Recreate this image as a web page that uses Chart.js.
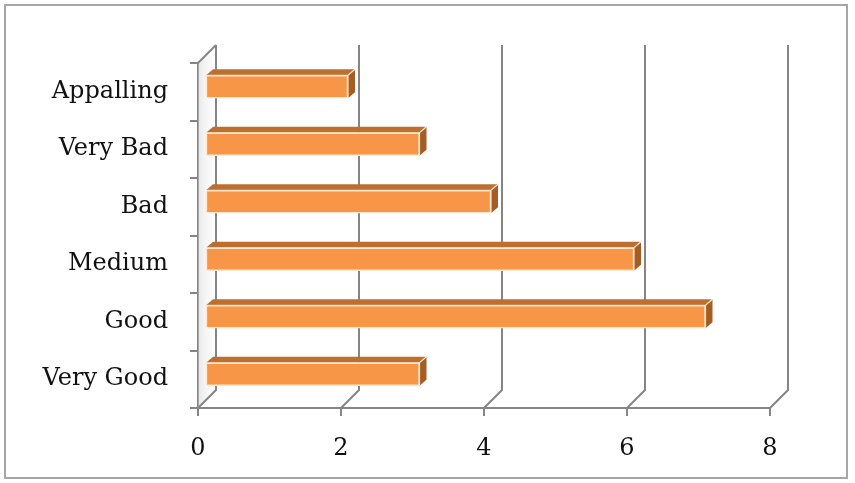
<!DOCTYPE html>
<html>
<head>
<meta charset="utf-8">
<script src="https://cdn.jsdelivr.net/npm/chart.js@4/dist/chart.umd.min.js"></script>
<style>
  html, body { margin: 0; padding: 0; background: #fff; }
  #wrap { width: 855px; height: 483px; }
</style>
</head>
<body>
<div id="wrap"><canvas id="ratingChart" width="855" height="483"></canvas></div>
<script>
// ----------- DATA -----------
const categories = ["Very Good", "Good", "Medium", "Bad", "Very Bad", "Appalling"];
const counts = [3, 7, 6, 4, 3, 2];
const axisMax = 8;
const axisStep = 2;

// 3D look: back wall offset and bar depth
const WALL = 18;
const SHIFT = { x: 7, y: -5 };
const DEPTH = { x: 7, y: -6 };
const GRID_COLOR = "#858585";

const box3d = {
  id: "box3d",
  beforeDraw(chart) {
    const ctx = chart.ctx;
    ctx.save();
    ctx.strokeStyle = "#a6a6a6";
    ctx.lineWidth = 2;
    ctx.strokeRect(5, 5, 842, 473);
    ctx.restore();
  },
  beforeDatasetsDraw(chart) {
    const { ctx, chartArea: a, scales } = chart;
    const xs = scales.x;
    ctx.save();
    // left wall shading
    const g = ctx.createLinearGradient(a.left, 0, a.left + WALL, 0);
    g.addColorStop(0, "rgba(205,205,205,0.45)");
    g.addColorStop(1, "rgba(245,245,245,0.1)");
    ctx.fillStyle = g;
    ctx.beginPath();
    ctx.moveTo(a.left, a.top);
    ctx.lineTo(a.left + WALL, a.top - WALL);
    ctx.lineTo(a.left + WALL, a.bottom - WALL);
    ctx.lineTo(a.left, a.bottom);
    ctx.closePath();
    ctx.fill();

    ctx.strokeStyle = GRID_COLOR;
    ctx.lineWidth = 2;
    // back wall grid lines + floor diagonals
    for (let v = 0; v <= axisMax; v += axisStep) {
      const px = xs.getPixelForValue(v);
      ctx.beginPath();
      ctx.moveTo(px + WALL, a.top - WALL);
      ctx.lineTo(px + WALL, a.bottom - WALL);
      ctx.lineTo(px, a.bottom);
      ctx.stroke();
    }
    // top of left wall
    ctx.beginPath();
    ctx.moveTo(a.left, a.top);
    ctx.lineTo(a.left + WALL, a.top - WALL);
    ctx.stroke();
    ctx.restore();

    ctx.save();
    ctx.translate(SHIFT.x, SHIFT.y);
  },
  afterDatasetsDraw(chart) {
    const ctx = chart.ctx;
    const meta = chart.getDatasetMeta(0);
    meta.data.forEach(el => {
      const h = el.height;
      const left = el.base, right = el.x;
      const top = el.y - h / 2, bottom = el.y + h / 2;
      // top face
      ctx.fillStyle = "#bd6f30";
      ctx.beginPath();
      ctx.moveTo(left, top);
      ctx.lineTo(left + DEPTH.x, top + DEPTH.y);
      ctx.lineTo(right + DEPTH.x, top + DEPTH.y);
      ctx.lineTo(right, top);
      ctx.closePath();
      ctx.fill();
      // side face
      ctx.fillStyle = "#a65d24";
      ctx.beginPath();
      ctx.moveTo(right, top);
      ctx.lineTo(right + DEPTH.x, top + DEPTH.y);
      ctx.lineTo(right + DEPTH.x, bottom + DEPTH.y);
      ctx.lineTo(right, bottom);
      ctx.closePath();
      ctx.fill();
      // light edges
      ctx.strokeStyle = "rgba(255,235,215,0.95)";
      ctx.lineWidth = 1.2;
      ctx.beginPath();
      ctx.moveTo(left, top);
      ctx.lineTo(right, top);
      ctx.lineTo(right + DEPTH.x, top + DEPTH.y);
      ctx.moveTo(right, top);
      ctx.lineTo(right, bottom);
      ctx.stroke();
    });
    ctx.restore();
  }
};

const ctx = document.getElementById("ratingChart").getContext("2d");
new Chart(ctx, {
  type: "bar",
  data: {
    labels: categories,
    datasets: [{
      data: counts,
      backgroundColor: "#f79646",
      borderColor: "#fde6d2",
      borderWidth: 1.5,
      borderSkipped: false,
      barThickness: 23
    }]
  },
  options: {
    indexAxis: "y",
    responsive: false,
    animation: false,
    layout: { padding: { left: 0, top: 63, right: 85, bottom: 0 } },
    plugins: { legend: { display: false }, tooltip: { enabled: false } },
    scales: {
      x: {
        min: 0,
        max: axisMax,
        ticks: {
          stepSize: axisStep,
          color: "#111",
          padding: 18,
          font: { family: "'DejaVu Serif'", size: 24 }
        },
        grid: { drawOnChartArea: false, drawTicks: true, tickLength: 8, color: GRID_COLOR, lineWidth: 2 },
        border: { color: GRID_COLOR, width: 2 },
        afterFit(scale) { scale.height = 75; }
      },
      y: {
        reverse: true,
        ticks: {
          color: "#111",
          padding: 22,
          font: { family: "'DejaVu Serif'", size: 24 }
        },
        grid: { drawOnChartArea: false, drawTicks: true, tickLength: 8, color: GRID_COLOR, lineWidth: 2 },
        border: { color: GRID_COLOR, width: 2 },
        afterFit(scale) { scale.width = 198; }
      }
    }
  },
  plugins: [box3d]
});
</script>
</body>
</html>
